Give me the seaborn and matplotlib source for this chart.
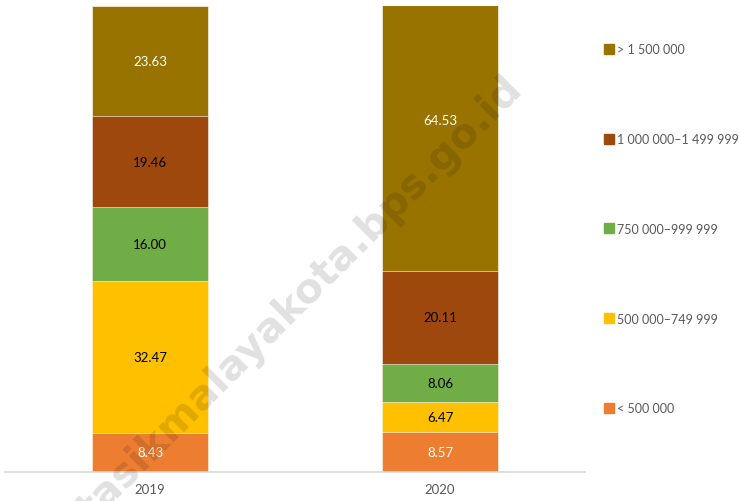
import numpy as np
import pandas as pd
import matplotlib.pyplot as plt
import seaborn as sns

years = ['2019', '2020']
groups = ['< 500 000', '500 000\u2013749 999', '750 000\u2013999 999',
          '1 000 000\u20131 499 999', '> 1 500 000']
v_lt500 = [8.43, 8.57]
v_500_749 = [32.47, 6.47]
v_750_999 = [16.00, 8.06]
v_1000_1499 = [19.46, 20.11]
v_gt1500 = [23.63, 64.53]

colors = ['#ED7D31', '#FFC000', '#70AD47', '#9E480E', '#997300']
label_colors = ['white', 'black', 'black', 'black', 'white']

vals = np.array([v_lt500, v_500_749, v_750_999, v_1000_1499, v_gt1500])
cum = np.cumsum(vals, axis=0)

sns.set_theme(style='white')
plt.rcParams['font.family'] = ['Lato', 'DejaVu Sans']

fig = plt.figure(figsize=(7.4, 5.02), dpi=100)
ax = fig.add_axes([5 / 740, 29 / 502, 580 / 740, 466 / 502])

# draw from the top layer down so each cumulative bar hides the ones below
for i in range(len(groups) - 1, -1, -1):
    df = pd.DataFrame({'year': years, 'top': cum[i]})
    sns.barplot(data=df, x='year', y='top', color=colors[i], width=0.4,
                edgecolor='white', linewidth=0.4, saturation=1, ax=ax)

for i in range(len(groups)):
    for j in range(len(years)):
        mid = cum[i, j] - vals[i, j] / 2
        ax.text(j, mid, f'{vals[i, j]:.2f}', ha='center', va='center',
                fontsize=9.5, color=label_colors[i])

# axis capped at 100 like the original, so the 2020 top segment is clipped
ax.set_xlim(-0.5, 1.5)
ax.set_ylim(0, 100)
ax.set_xlabel('')
ax.set_ylabel('')
ax.set_yticks([])
ax.tick_params(axis='x', length=0, labelsize=9.5, labelcolor='#595959', pad=8)
for s in ['top', 'right', 'left']:
    ax.spines[s].set_visible(False)
ax.spines['bottom'].set_color('#d9d9d9')
ax.spines['bottom'].set_linewidth(1.2)

handles = [plt.Line2D([], [], marker='s', linestyle='', markersize=6.5,
                      color=colors[i]) for i in range(len(groups) - 1, -1, -1)]
leg = fig.legend(handles, groups[::-1], loc='upper left',
                 bbox_to_anchor=(596 / 740, 1 - 38 / 502), frameon=False,
                 fontsize=9, labelspacing=6.22, handletextpad=0.15,
                 handlelength=1.0, borderpad=0)
for t in leg.get_texts():
    t.set_color('#595959')

fig.text(300 / 740, 1 - 300 / 502, 'tasikmalayakota.bps.go.id',
         rotation=45, ha='center', va='center', fontsize=29.5,
         fontweight='bold', family='DejaVu Sans', color='black', alpha=0.12)

fig.savefig('out.png', dpi=100)
